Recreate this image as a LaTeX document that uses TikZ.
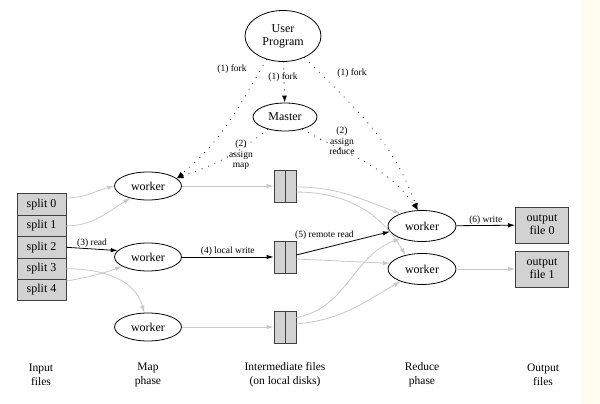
\documentclass[tikz,border=0pt]{standalone}
\usepackage{fontspec}
\setmainfont{Liberation Serif}
\usetikzlibrary{arrows.meta,positioning,shapes.geometric}
\definecolor{edgegray}{RGB}{200,200,200}
\definecolor{diskgray}{RGB}{210,210,210}
\definecolor{cream}{RGB}{255,254,238}

\begin{document}
\begin{tikzpicture}[x=1pt,y=1pt,
    font=\fontsize{12}{13}\selectfont,
    proc/.style={draw,ellipse,inner sep=0pt,line width=0.8pt,
      minimum width=67pt,minimum height=28pt},
    filebox/.style={draw=black!75,fill=diskgray,inner sep=0pt,line width=0.8pt},
    flow/.style={-{Latex[length=7pt,width=4.5pt]},line width=0.8pt},
    faint/.style={flow,draw=edgegray},
    ctrl/.style={-{Latex[length=7pt,width=5pt]},line width=1.1pt,
      dash pattern=on 0pt off 7pt,line cap=round},
    lbl/.style={font=\fontsize{9.5}{10.5}\selectfont,align=center,inner sep=1pt},
    phase/.style={font=\fontsize{11.5}{14}\selectfont,align=center}]
  \useasboundingbox (0,0) rectangle (600,404);
  \fill[white] (0,0) rectangle (600,404);
  \fill[cream] (581,0) rectangle (600,404);

  % master side
  \node[proc,minimum width=76pt,minimum height=51pt,align=center] (user) at (283,368) {User\\Program};
  \node[proc,minimum width=64pt] (master) at (285,287) {Master};

  % input splits and map workers
  \foreach \i in {0,...,4}
    \node[filebox,minimum width=49pt,minimum height=21.4pt] (split\i) at (41.5,199.5-21.4*\i) {split \i};
  \node[proc] (map1) at (148,218) {worker};
  \node[proc] (map2) at (148,147) {worker};
  \node[proc] (map3) at (148,77) {worker};

  % intermediate files
  \foreach \y [count=\k] in {218,147,77} {
    \node[filebox,minimum width=22pt,minimum height=32pt] (disk\k) at (285,\y) {};
    \draw[black!75,line width=0.8pt] (disk\k.north) -- (disk\k.south);
  }

  % reduce workers and output files
  \node[proc,minimum width=68pt,minimum height=31pt] (red1) at (422,178) {worker};
  \node[proc,minimum width=68pt,minimum height=31pt] (red2) at (422,135) {worker};
  \node[filebox,minimum width=53pt,minimum height=36pt,align=center] (out0) at (542,179) {output\\file 0};
  \node[filebox,minimum width=53pt,minimum height=36pt,align=center] (out1) at (542,135) {output\\file 1};

  % fork and assign
  \draw[ctrl] (user) -- (master);
  \draw[ctrl] (user.-125) to[out=-120,in=40] (map1.15);
  \draw[ctrl] (user.-45) to[out=-45,in=110] (red1.105);
  \draw[ctrl] (master.-145) to[out=-140,in=20] (map1.15);
  \draw[ctrl] (master.-35) to[out=-30,in=125] (red1.105);
  \node[lbl] (fork1) at (232,335) {(1) fork};
  \node[lbl] (fork2) at (283,327) {(1) fork};
  \node[lbl] (fork3) at (352,331) {(1) fork};
  \node[lbl] (assignmap) at (241,249) {(2)\\assign\\map};
  \node[lbl] (assignred) at (342,263) {(2)\\assign\\reduce};

  % read splits
  \draw[faint] (split0.15) to[out=0,in=195] (map1.west);
  \draw[faint] (split1.east) to[out=0,in=-150] (map1.-145);
  \draw[flow] (split2.east) -- node[lbl,above] {(3) read} (map2.168);
  \draw[faint] (split3.east) to[out=0,in=105] (map3.105);
  \draw[faint] (split4.20) to[out=10,in=200] (map2.-160);

  % local write
  \draw[faint] (map1) -- (disk1);
  \draw[flow] (map2) -- node[lbl,above] {(4) local write} (disk2);
  \draw[faint] (map3) -- (disk3);

  % remote read
  \draw[faint] (disk1.-5) to[out=0,in=160] (red1.150);
  \draw[faint] (disk1.-28) to[out=0,in=120] (red2.140);
  \draw[flow] (disk2.10) -- node[lbl,above=7pt,pos=0.3] {(5) remote read} (red1.190);
  \draw[faint] (disk2.-10) -- (red2.170);
  \draw[faint] (disk3.40) to[out=10,in=-160] (red1.-150);
  \draw[faint] (disk3.15) to[out=5,in=-150] (red2.-150);

  % write output
  \draw[flow] (red1) -- node[lbl,above] {(6) write} (out0);
  \draw[faint] (red2) -- (out1);

  % phases
  \node[phase] (inlbl) at (41,29) {Input\\files};
  \node[phase] (maplbl) at (148,29) {Map\\phase};
  \node[phase] (midlbl) at (285,29) {Intermediate files\\(on local disks)};
  \node[phase] (redlbl) at (422,29) {Reduce\\phase};
  \node[phase] (outlbl) at (543,29) {Output\\files};
\end{tikzpicture}
\end{document}
